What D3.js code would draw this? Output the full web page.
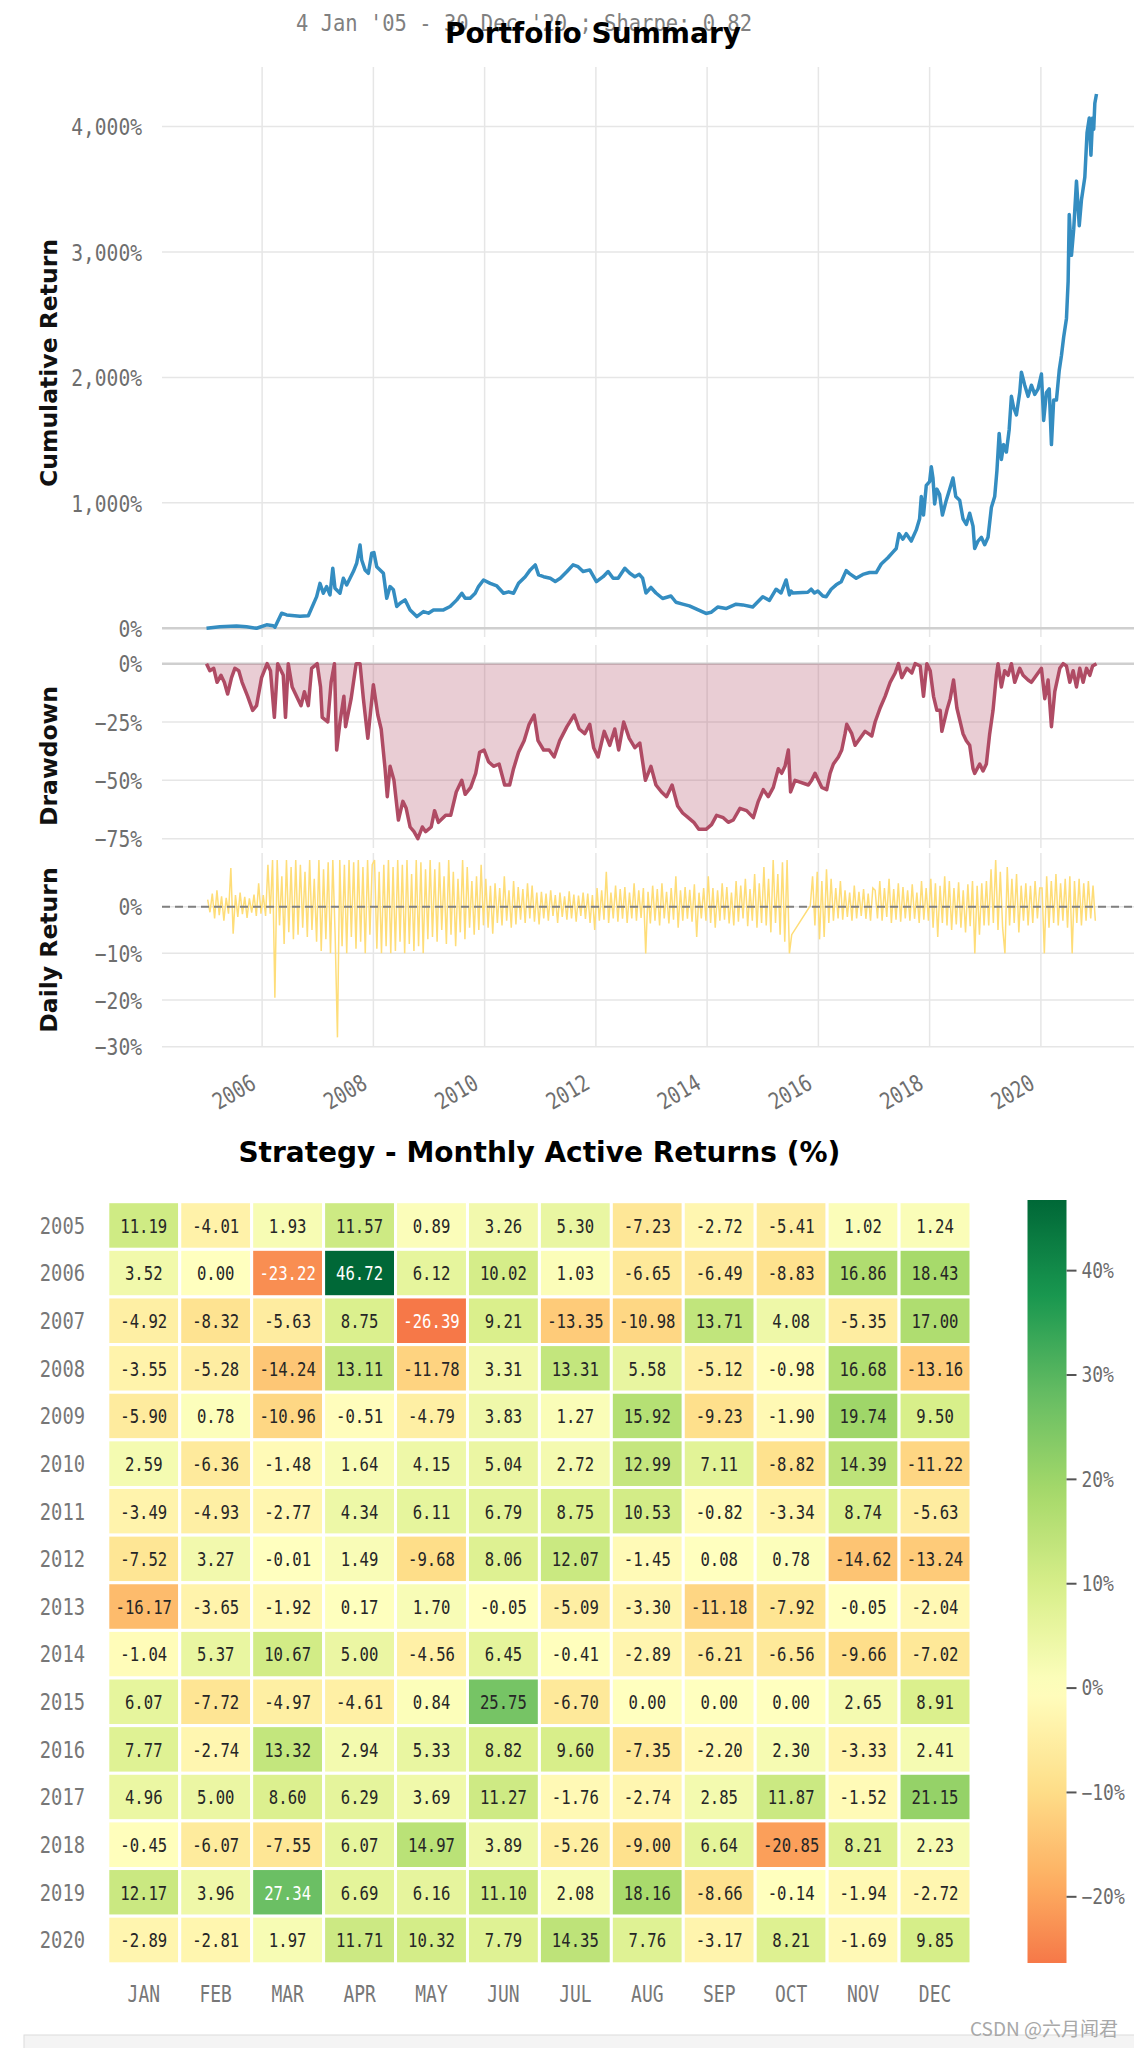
<!DOCTYPE html>
<html><head><meta charset="utf-8">
<script src="https://cdn.jsdelivr.net/npm/d3@7"></script>
<style>body{margin:0;background:#fff}svg{display:block}</style>
</head><body>
<svg id="c" width="1134" height="2048"></svg>
<script>
// ---------------- DATA ----------------
const subtitleText = "4 Jan '05 - 30 Dec '20 ;  Sharpe: 0.82";
const titleText = "Portfolio Summary";
const heatTitle = "Strategy - Monthly Active Returns (%)";

// cumulative return (%), decimal years
const cumYears = [2005.00,2005.24,2005.54,2005.72,2005.90,2006.08,2006.20,2006.23,2006.35,2006.44,2006.68,2006.83,2006.98,2007.04,2007.10,2007.16,2007.22,2007.27,2007.31,2007.40,2007.46,2007.52,2007.64,2007.70,2007.76,2007.79,2007.85,2007.91,2007.97,2008.01,2008.06,2008.12,2008.18,2008.24,2008.30,2008.36,2008.42,2008.48,2008.57,2008.66,2008.78,2008.90,2008.99,2009.08,2009.26,2009.38,2009.50,2009.59,2009.65,2009.74,2009.83,2009.89,2009.98,2010.10,2010.22,2010.34,2010.43,2010.52,2010.61,2010.73,2010.82,2010.91,2010.97,2011.06,2011.18,2011.27,2011.36,2011.48,2011.59,2011.68,2011.77,2011.89,2012.01,2012.13,2012.22,2012.31,2012.40,2012.52,2012.61,2012.70,2012.78,2012.84,2012.90,2012.99,2013.08,2013.20,2013.35,2013.44,2013.56,2013.68,2013.83,2013.98,2014.07,2014.19,2014.34,2014.52,2014.64,2014.82,2015.00,2015.12,2015.24,2015.33,2015.42,2015.48,2015.51,2015.54,2015.81,2015.87,2015.93,2015.99,2016.08,2016.14,2016.23,2016.32,2016.41,2016.50,2016.56,2016.68,2016.80,2016.92,2017.04,2017.13,2017.25,2017.34,2017.40,2017.45,2017.52,2017.58,2017.67,2017.76,2017.82,2017.85,2017.89,2017.94,2018.00,2018.03,2018.06,2018.09,2018.13,2018.18,2018.23,2018.30,2018.36,2018.42,2018.47,2018.54,2018.60,2018.66,2018.72,2018.78,2018.81,2018.87,2018.93,2018.99,2019.05,2019.11,2019.17,2019.21,2019.25,2019.29,2019.33,2019.38,2019.43,2019.47,2019.51,2019.56,2019.62,2019.65,2019.71,2019.77,2019.83,2019.89,2019.95,2020.01,2020.05,2020.10,2020.15,2020.19,2020.23,2020.28,2020.33,2020.37,2020.41,2020.46,2020.49,2020.51,2020.55,2020.59,2020.64,2020.69,2020.73,2020.79,2020.83,2020.87,2020.90,2020.93,2020.95,2020.97,2021.00];
const cumValues = [0,11,18,11,0,27,20,8,120,106,95,100,252,358,279,332,266,478,319,279,398,345,452,518,664,544,465,438,598,603,491,465,438,239,332,306,173,199,226,146,93,133,120,146,146,173,226,279,239,239,279,332,385,358,337,279,290,279,358,411,465,505,425,411,398,372,398,452,505,491,452,465,372,411,452,398,398,478,438,411,430,399,281,325,281,237,257,207,192,178,148,118,127,169,157,192,186,169,251,222,311,281,385,266,296,281,287,311,281,296,257,251,311,346,370,459,435,399,429,444,444,512,562,607,636,754,710,754,695,784,873,1050,902,1139,1169,1287,1198,991,1109,1065,902,1021,1109,1198,1050,1021,873,828,917,814,636,695,725,666,725,962,1050,1257,1553,1346,1464,1405,1583,1849,1760,1701,1879,2041,1938,1849,1938,1864,1908,2027,1657,1879,1908,1464,1820,1820,2056,2175,2322,2470,2766,3299,2973,3180,3565,3210,3417,3595,3950,4068,3772,4068,3979,4186,4260];

// drawdown (%), decimal years
const ddYears = [2005.00,2005.06,2005.13,2005.19,2005.26,2005.32,2005.38,2005.45,2005.51,2005.58,2005.64,2005.74,2005.83,2005.90,2005.99,2006.09,2006.15,2006.22,2006.28,2006.38,2006.42,2006.47,2006.54,2006.64,2006.70,2006.76,2006.83,2006.89,2006.99,2007.05,2007.08,2007.18,2007.24,2007.30,2007.34,2007.40,2007.47,2007.50,2007.60,2007.69,2007.76,2007.82,2007.90,2008.00,2008.08,2008.14,2008.21,2008.25,2008.30,2008.37,2008.45,2008.53,2008.59,2008.66,2008.73,2008.80,2008.88,2008.94,2009.04,2009.10,2009.17,2009.30,2009.39,2009.49,2009.59,2009.65,2009.75,2009.84,2009.91,2009.99,2010.07,2010.16,2010.26,2010.36,2010.45,2010.52,2010.61,2010.71,2010.80,2010.89,2010.96,2011.06,2011.16,2011.25,2011.35,2011.48,2011.61,2011.70,2011.80,2011.89,2011.96,2012.04,2012.15,2012.25,2012.34,2012.41,2012.50,2012.60,2012.70,2012.79,2012.89,2012.99,2013.08,2013.18,2013.27,2013.37,2013.47,2013.56,2013.66,2013.76,2013.85,2013.98,2014.08,2014.17,2014.29,2014.38,2014.47,2014.59,2014.71,2014.83,2014.92,2015.01,2015.10,2015.19,2015.28,2015.34,2015.40,2015.46,2015.50,2015.58,2015.82,2015.88,2015.94,2016.00,2016.06,2016.15,2016.21,2016.27,2016.36,2016.42,2016.48,2016.51,2016.60,2016.66,2016.75,2016.84,2016.90,2016.96,2017.02,2017.11,2017.20,2017.29,2017.38,2017.44,2017.50,2017.59,2017.68,2017.74,2017.83,2017.89,2017.95,2018.01,2018.07,2018.13,2018.19,2018.22,2018.31,2018.37,2018.43,2018.49,2018.54,2018.60,2018.66,2018.72,2018.78,2018.81,2018.90,2018.96,2019.02,2019.08,2019.14,2019.20,2019.23,2019.29,2019.35,2019.41,2019.47,2019.53,2019.62,2019.68,2019.77,2019.83,2019.92,2020.01,2020.07,2020.13,2020.19,2020.25,2020.34,2020.40,2020.46,2020.52,2020.58,2020.64,2020.70,2020.76,2020.82,2020.88,2020.93,2021.00];
const ddValues = [0,-3,-2,-8,-5,-8,-13,-6,-2,-3,-8,-14,-20,-18,-6,0,-3,-23,0,-5,-23,0,-10,-15,-18,-12,-18,-2,0,-10,-23,-25,-8,0,-37,-25,-14,-27,-15,0,0,-15,-32,-9,-22,-28,-45,-57,-44,-50,-67,-59,-62,-70,-72,-75,-70,-72,-70,-63,-68,-65,-65,-55,-50,-56,-53,-47,-38,-37,-42,-44,-43,-52,-52,-45,-38,-33,-26,-22,-33,-37,-37,-40,-33,-27,-22,-28,-30,-26,-36,-40,-29,-35,-28,-37,-25,-32,-36,-34,-50,-44,-52,-55,-57,-52,-61,-64,-66,-68,-71,-71,-69,-65,-66,-68,-67,-62,-63,-66,-59,-54,-57,-53,-45,-47,-44,-37,-55,-50,-52,-50,-47,-50,-53,-54,-47,-43,-40,-37,-30,-26,-30,-35,-32,-29,-30,-31,-25,-19,-14,-8,-4,0,-6,-2,-4,0,-1,-14,0,-3,-14,-20,-20,-29,-20,-15,-7,-19,-24,-30,-33,-35,-45,-47,-43,-46,-43,-30,-20,-5,0,-10,-3,-5,0,-8,-2,-5,-7,-8,-5,-2,-15,-7,-27,-12,-2,0,-1,-8,-3,-10,-2,-8,-2,-5,-1,0];

// daily returns (%), 24 samples per year, 2005..2020 (null = no data)
const dailyFirstYear = 2005;
const dailyPerYear = 24;
const daily2005 = [1.5,-1.2,2.8,-2.5,3.5,-1.8,2.2,-3.0,1.9,-1.5,8.3,-5.8,2.5,-2.2,3.0,-1.6,2.1,-2.4,1.8,-1.3,2.6,-2.0,5.0,-1.5];
const daily2006 = [2.5,-2.0,9.0,-1.5,10.0,-19.5,10.0,-4.0,6.5,-8.0,10.0,-5.5,8.5,-7.0,10.0,-6.0,9.0,-4.5,7.5,-6.5,10.0,-5.0,6.0,-7.5];
const daily2007 = [10.0,-9.5,8.0,-7.0,9.5,-10.0,10.0,-6.0,-28.0,10.0,-8.5,9.0,-10.0,10.0,-6.5,9.5,-9.0,10.0,-7.5,8.5,-10.0,10.0,-6.0,9.0];
const daily2008 = [10.0,-9.0,7.5,-10.0,9.0,-8.5,10.0,-10.0,8.5,-9.5,10.0,-7.5,9.0,-10.0,10.0,-8.0,7.0,-9.5,10.0,-8.5,9.5,-10.0,8.0,-7.0];
const daily2009 = [10.0,-6.5,8.0,-7.5,9.5,-5.0,6.5,-8.0,10.0,-6.0,7.5,-8.5,6.0,-5.5,10.0,-7.0,8.5,-4.5,5.5,-6.0,6.5,-5.0,9.0,-4.0];
const daily2010 = [6.0,-4.5,4.5,-5.8,5.0,-3.5,4.0,-4.0,6.5,-3.0,3.5,-4.5,5.5,-3.8,4.2,-2.8,3.8,-3.5,5.0,-2.5,4.5,-3.2,3.0,-3.8];
const daily2011 = [3.2,-2.5,2.8,-3.0,3.5,-2.0,2.5,-3.5,3.0,-2.2,2.2,-2.8,3.3,-2.5,2.6,-3.2,2.4,-2.0,3.0,-2.6,2.8,-3.5,2.5,-5.0];
const daily2012 = [4.0,-3.0,3.5,-2.8,7.5,-3.5,3.0,-2.5,4.5,-3.2,3.8,-2.6,4.2,-3.5,3.0,-2.5,5.0,-3.0,3.5,-2.4,4.0,-10.0,3.2,-3.6];
const daily2013 = [4.5,-3.0,3.8,-4.0,5.0,-2.5,3.2,-3.6,4.0,-2.8,6.5,-4.5,3.5,-3.0,4.2,-2.6,3.6,-3.2,4.8,-6.5,3.0,-2.5,4.0,-3.0];
const daily2014 = [6.5,-3.5,4.0,-4.5,3.5,-3.0,5.0,-2.8,4.2,-3.6,3.0,-4.0,5.5,-3.2,4.5,-2.5,6.0,-4.2,3.8,-3.0,7.0,-4.5,5.0,-3.5];
const daily2015 = [8.5,-4.0,6.0,-5.5,10.0,-3.5,7.0,-6.0,9.5,-7.5,10.0,-10.0,-6.0,null,null,null,null,null,null,null,0.2,6.5,-4.0,7.5];
const daily2016 = [-7.0,5.5,-6.5,8.0,-3.5,6.0,-3.0,4.0,-2.5,5.5,-2.8,3.5,-2.2,3.0,-3.0,4.5,-2.5,3.2,-2.0,3.8,-2.6,2.8,-3.0,4.0];
const daily2017 = [3.5,-2.5,5.5,-3.0,4.0,-2.2,6.0,-3.5,3.8,-2.8,5.0,-3.2,4.2,-2.5,3.5,-3.0,4.8,-2.6,3.0,-3.5,5.5,-2.8,4.0,-3.0];
const daily2018 = [6.0,-4.5,5.0,-6.5,4.5,-3.5,6.5,-4.0,5.5,-5.0,4.0,-3.8,5.2,-4.5,3.5,-5.5,4.8,-4.2,5.5,-10.0,4.5,-6.0,5.0,-4.0];
const daily2019 = [5.5,-4.0,8.0,-3.5,10.0,-5.0,7.5,-4.5,-10.0,8.5,-4.0,6.0,-3.5,7.0,-5.5,4.5,-3.0,5.0,-4.0,4.5,-3.5,5.5,-2.5,4.0];
const daily2020 = [4.0,-10.0,6.5,-4.5,5.5,-3.5,7.0,-4.0,5.0,-3.0,6.0,-4.5,6.5,-10.0,5.5,-3.5,6.0,-4.0,5.0,-3.0,5.5,-2.5,4.5,-3.0];
const dailyRows = [daily2005,daily2006,daily2007,daily2008,daily2009,daily2010,daily2011,daily2012,daily2013,daily2014,daily2015,daily2016,daily2017,daily2018,daily2019,daily2020];

// axis ticks
const xTicks = [2006,2008,2010,2012,2014,2016,2018,2020];
const cumTicks = [0,1000,2000,3000,4000];
const ddTicks = [0,-25,-50,-75];
const dailyTicks = [0,-10,-20,-30];
const cbTicks = [-20,-10,0,10,20,30,40];

// heatmap
const months = ["JAN","FEB","MAR","APR","MAY","JUN","JUL","AUG","SEP","OCT","NOV","DEC"];
const hmYears = ["2005","2006","2007","2008","2009","2010","2011","2012","2013","2014","2015","2016","2017","2018","2019","2020"];
const monthly = [
 [11.19,-4.01,1.93,11.57,0.89,3.26,5.30,-7.23,-2.72,-5.41,1.02,1.24],
 [3.52,0.00,-23.22,46.72,6.12,10.02,1.03,-6.65,-6.49,-8.83,16.86,18.43],
 [-4.92,-8.32,-5.63,8.75,-26.39,9.21,-13.35,-10.98,13.71,4.08,-5.35,17.00],
 [-3.55,-5.28,-14.24,13.11,-11.78,3.31,13.31,5.58,-5.12,-0.98,16.68,-13.16],
 [-5.90,0.78,-10.96,-0.51,-4.79,3.83,1.27,15.92,-9.23,-1.90,19.74,9.50],
 [2.59,-6.36,-1.48,1.64,4.15,5.04,2.72,12.99,7.11,-8.82,14.39,-11.22],
 [-3.49,-4.93,-2.77,4.34,6.11,6.79,8.75,10.53,-0.82,-3.34,8.74,-5.63],
 [-7.52,3.27,-0.01,1.49,-9.68,8.06,12.07,-1.45,0.08,0.78,-14.62,-13.24],
 [-16.17,-3.65,-1.92,0.17,1.70,-0.05,-5.09,-3.30,-11.18,-7.92,-0.05,-2.04],
 [-1.04,5.37,10.67,5.00,-4.56,6.45,-0.41,-2.89,-6.21,-6.56,-9.66,-7.02],
 [6.07,-7.72,-4.97,-4.61,0.84,25.75,-6.70,0.00,0.00,0.00,2.65,8.91],
 [7.77,-2.74,13.32,2.94,5.33,8.82,9.60,-7.35,-2.20,2.30,-3.33,2.41],
 [4.96,5.00,8.60,6.29,3.69,11.27,-1.76,-2.74,2.85,11.87,-1.52,21.15],
 [-0.45,-6.07,-7.55,6.07,14.97,3.89,-5.26,-9.00,6.64,-20.85,8.21,2.23],
 [12.17,3.96,27.34,6.69,6.16,11.10,2.08,18.16,-8.66,-0.14,-1.94,-2.72],
 [-2.89,-2.81,1.97,11.71,10.32,7.79,14.35,7.76,-3.17,8.21,-1.69,9.85]
];
const rdylgnColors = ['#a50026','#d73027','#f46d43','#fdae61','#fee08b','#ffffbf','#d9ef8b','#a6d96a','#66bd63','#1a9850','#006837'];

// ---------------- DRAW ----------------
const svg = d3.select("#c");
svg.append("rect").attr("width",1134).attr("height",2048).attr("fill","#fff");

const GRID = "#e6e6e6", TICKC = "#6e6e6e";
function hei(sel, fs, adv, fill){
  sel.attr("font-family","'DejaVu Sans Mono', monospace").attr("font-size",fs).attr("fill",fill)
    .each(function(){ const t=d3.select(this); const s=t.text();
      t.attr("textLength", (s.length*adv).toFixed(1)).attr("lengthAdjust","spacingAndGlyphs"); });
}
const pct = v => (v<0 ? "\u2212"+d3.format(",")(Math.abs(v)) : d3.format(",")(v)) + "%";

const x = d3.scaleLinear().domain([2004.2, 2021.8]).range([162, 1141]);
const yCum = d3.scaleLinear().domain([-70, 4475]).range([637, 67]);
const yDD = d3.scaleLinear().domain([-79, 8]).range([848, 645]);
const yDaily = d3.scaleLinear().domain([-30, 11.5]).range([1046.7, 853]);
const XL = 162, XR = 1134;

function panelGrid(ys, ticks, skipZero){
  const g = svg.append("g");
  g.selectAll("line.v").data(xTicks).join("line")
    .attr("x1",d=>x(d)).attr("x2",d=>x(d)).attr("y1",ys.range()[1]).attr("y2",ys.range()[0])
    .attr("stroke",GRID).attr("stroke-width",1.5);
  g.selectAll("line.h").data(ticks.filter(t=>!(skipZero && t===0))).join("line")
    .attr("x1",XL).attr("x2",XR).attr("y1",d=>ys(d)).attr("y2",d=>ys(d))
    .attr("stroke",GRID).attr("stroke-width",1.5);
}
panelGrid(yCum, cumTicks, true);
panelGrid(yDD, ddTicks, true);
panelGrid(yDaily, dailyTicks, false);

// zero lines
svg.append("line").attr("x1",XL).attr("x2",XR).attr("y1",yCum(0)).attr("y2",yCum(0)).attr("stroke","#cfcfcf").attr("stroke-width",2.5);
svg.append("line").attr("x1",XL).attr("x2",XR).attr("y1",yDD(0)).attr("y2",yDD(0)).attr("stroke","#cfcfcf").attr("stroke-width",2.5);

// cumulative line
const cumData = cumYears.map((t,i)=>[t,cumValues[i]]);
svg.append("path").datum(cumData)
  .attr("d", d3.line().x(d=>x(d[0])).y(d=>yCum(d[1])))
  .attr("fill","none").attr("stroke","#348dc1").attr("stroke-width",3.5).attr("stroke-linejoin","round");

// drawdown
const ddData = ddYears.map((t,i)=>[t,ddValues[i]]);
svg.append("path").datum(ddData)
  .attr("d", d3.area().x(d=>x(d[0])).y0(yDD(0)).y1(d=>yDD(d[1])))
  .attr("fill","#af4b64").attr("fill-opacity",0.28);
svg.append("path").datum(ddData)
  .attr("d", d3.line().x(d=>x(d[0])).y(d=>yDD(d[1])))
  .attr("fill","none").attr("stroke","#af4b64").attr("stroke-width",3.5).attr("stroke-linejoin","round");

// daily returns
const dailyData = [];
dailyRows.forEach((row,r)=>row.forEach((v,i)=>{ if(v!==null) dailyData.push([dailyFirstYear + r + (i+0.5)/dailyPerYear, v]); }));
svg.append("path").datum(dailyData)
  .attr("d", d3.line().x(d=>x(d[0])).y(d=>yDaily(d[1])))
  .attr("fill","none").attr("stroke","#fedd78").attr("stroke-width",1.5);
svg.append("line").attr("x1",XL).attr("x2",XR).attr("y1",yDaily(0)).attr("y2",yDaily(0))
  .attr("stroke","#808080").attr("stroke-width",2).attr("stroke-dasharray","8,5");

// y axes
function yAxis(scale, ticks){
  const g = svg.append("g").attr("transform","translate(142,0)")
    .call(d3.axisLeft(scale).tickValues(ticks).tickSize(0).tickPadding(0).tickFormat(pct));
  g.select(".domain").remove();
  g.selectAll("text").attr("dy","0.36em");
  hei(g.selectAll("text"), 23, 11.8, TICKC);
}
yAxis(yCum, cumTicks); yAxis(yDD, ddTicks); yAxis(yDaily, dailyTicks);

// x axis (rotated)
const gx = svg.append("g").attr("transform","translate(0,1046.7)")
  .call(d3.axisBottom(x).tickValues(xTicks).tickSize(0).tickFormat(d3.format("d")));
gx.select(".domain").remove();
gx.selectAll("text").attr("y",0).attr("dy",0).attr("text-anchor","end")
  .attr("transform","translate(-5,41) rotate(-30)");
hei(gx.selectAll("text"), 23, 11.3, TICKC);

// axis titles
function yTitle(txt, cy){
  svg.append("text").attr("transform",`translate(57,${cy}) rotate(-90)`)
    .attr("text-anchor","middle").attr("font-family","'DejaVu Sans', sans-serif")
    .attr("font-weight","bold").attr("font-size",23.5).attr("fill","#111").text(txt);
}
yTitle("Cumulative Return", 363);
yTitle("Drawdown", 756);
yTitle("Daily Return", 950);

// titles
hei(svg.append("text").attr("x",296).attr("y",31).text(subtitleText), 23, 12, "#808080");
svg.append("text").attr("x",593).attr("y",43).attr("text-anchor","middle")
  .attr("font-family","'DejaVu Sans', sans-serif").attr("font-weight","bold").attr("font-size",28)
  .attr("fill","#000").text(titleText);

// ---------------- HEATMAP ----------------
const hx = d3.scaleBand().domain(months).range([107.8, 971]);
const hy = d3.scaleBand().domain(hmYears).range([1201.7, 1963.8]);
const flat = monthly.flat();
const vmin = d3.min(flat), vmax = d3.max(flat);
const vabs = Math.max(Math.abs(vmin), Math.abs(vmax));
const cmap = d3.piecewise(d3.interpolateRgb, rdylgnColors);
const color = v => cmap((v + vabs) / (2*vabs));
function lum(c){ const o=d3.rgb(c); const f=u=>{u/=255; return u<=0.03928?u/12.92:Math.pow((u+0.055)/1.055,2.4);};
  return 0.2126*f(o.r)+0.7152*f(o.g)+0.0722*f(o.b); }

svg.append("text").attr("x",(107.8+971)/2).attr("y",1162).attr("text-anchor","middle")
  .attr("font-family","'DejaVu Sans', sans-serif").attr("font-weight","bold").attr("font-size",28)
  .attr("fill","#000").text(heatTitle);

const cells = [];
monthly.forEach((row,r)=>row.forEach((v,c)=>cells.push({yr:hmYears[r], m:months[c], v})));
const gh = svg.append("g");
gh.selectAll("rect").data(cells).join("rect")
  .attr("x",d=>hx(d.m)).attr("y",d=>hy(d.yr)).attr("width",hx.bandwidth()).attr("height",hy.bandwidth())
  .attr("fill",d=>color(d.v)).attr("stroke","#fff").attr("stroke-width",3);
const ct = gh.selectAll("text").data(cells).join("text")
  .attr("x",d=>hx(d.m)+hx.bandwidth()/2).attr("y",d=>hy(d.yr)+hy.bandwidth()/2)
  .attr("dy","0.36em").attr("text-anchor","middle").text(d=>d.v.toFixed(2));
hei(ct, 20, 9.4, "#262626");
ct.attr("fill", d => lum(color(d.v)) < 0.42 ? "#ffffff" : "#262626");

const gyh = svg.append("g").attr("transform","translate(85,0)")
  .call(d3.axisLeft(hy).tickSize(0).tickPadding(0));
gyh.select(".domain").remove();
gyh.selectAll("text").attr("dy","0.36em");
hei(gyh.selectAll("text"), 23, 11.3, "#777");

const gxh = svg.append("g").attr("transform","translate(0,1994)")
  .call(d3.axisBottom(hx).tickSize(0).tickPadding(0));
gxh.select(".domain").remove();
gxh.selectAll("text").attr("y",0).attr("dy","0.36em");
hei(gxh.selectAll("text"), 23, 10.8, "#777");

// colorbar
const cbY = d3.scaleLinear().domain([vmin, vmax]).range([1963, 1200]);
const defs = svg.append("defs");
const grad = defs.append("linearGradient").attr("id","cbg").attr("x1",0).attr("y1",1).attr("x2",0).attr("y2",0);
d3.range(0, 41).forEach(i=>{ const t=i/40; grad.append("stop").attr("offset",t).attr("stop-color", color(vmin + t*(vmax-vmin))); });
svg.append("rect").attr("x",1027.5).attr("y",1200).attr("width",39).attr("height",763).attr("fill","url(#cbg)");
const gcb = svg.append("g").attr("transform","translate(1066.5,0)")
  .call(d3.axisRight(cbY).tickValues(cbTicks).tickSize(10).tickPadding(5).tickFormat(pct));
gcb.select(".domain").remove();
gcb.selectAll("line").attr("stroke","#555").attr("stroke-width",2);
gcb.selectAll("text").attr("dy","0.36em");
hei(gcb.selectAll("text"), 20.5, 10.8, "#6b6b6b");

// footer bar + watermark
svg.append("rect").attr("x",24).attr("y",2035).attr("width",1120).attr("height",20).attr("fill","#f4f4f4").attr("stroke","#dcdcdc");
svg.append("text").attr("x",1118).attr("y",2036).attr("text-anchor","end")
  .attr("font-family","'Noto Sans CJK SC', sans-serif").attr("font-size",19).attr("fill","#a8a8a8")
  .text("CSDN @六月闻君");
</script>
</body></html>
